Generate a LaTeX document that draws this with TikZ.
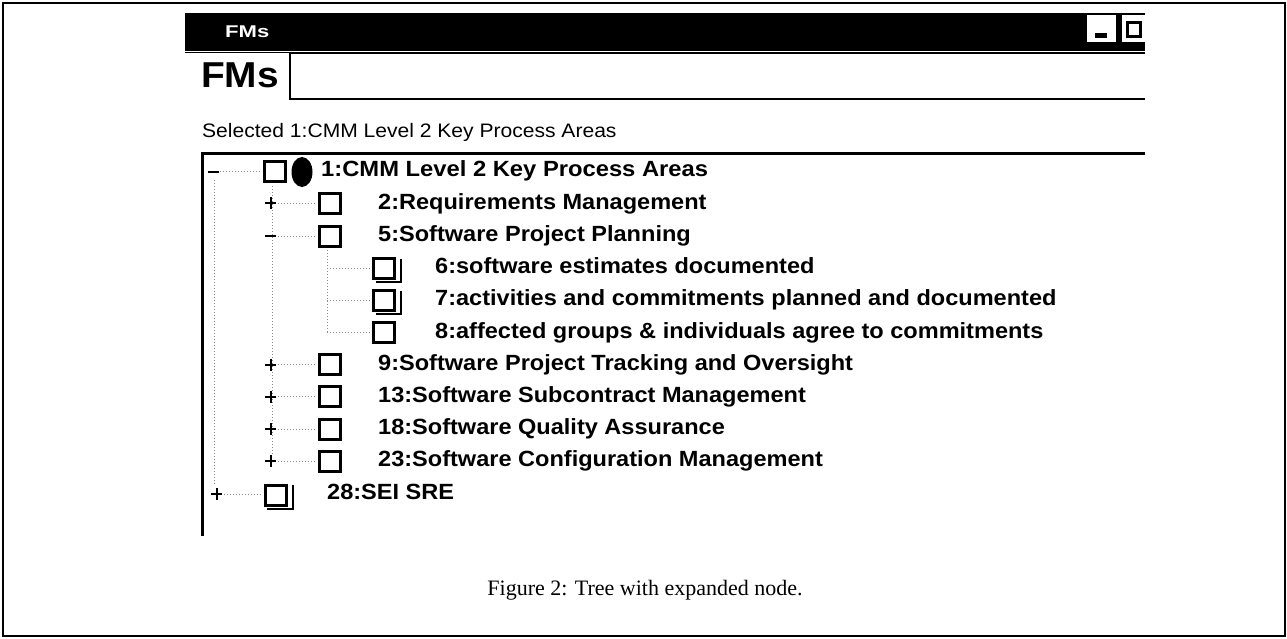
\documentclass[tikz,border=0pt]{standalone}
\usepackage{fontspec}
\setmainfont{Liberation Sans}
\newfontfamily\capfont{Liberation Serif}
\usepackage{graphicx}
\newcommand{\sx}[2]{\scalebox{#1}[1]{#2}}
\tikzset{
  treetext/.style={anchor=base west, inner sep=0pt, font=\bfseries\fontsize{22}{24}\selectfont},
  cbox/.style={draw, line width=3pt, minimum width=21pt, minimum height=20pt, inner sep=0pt},
  cshadow/.style={draw, line width=1.5pt},
  treeline/.style={draw=black!45, dotted, line width=1pt},
  expander/.style={line width=2pt},
  framel/.style={line width=2pt},
}
\begin{document}
\begin{tikzpicture}[x=1pt,y=-1pt]
\useasboundingbox (0,0) rectangle (1287,639);
% outer frame
\draw[framel] (3,3) rectangle (1285,636);
% title bar
\fill[black] (185,13) rectangle (1145,51);
\draw[line width=1.5pt] (185,52.5) -- (1145,52.5);
\node[anchor=base west, inner sep=0pt, text=white, font=\bfseries\fontsize{17}{18}\selectfont] (title) at (225,38) {\sx{1.3}{FMs}};
% window buttons
\node[fill=white, minimum width=29pt, minimum height=27pt, inner sep=0pt] (minbtn) at (1101.5,28.5) {};
\fill[black] (1095,33) rectangle (1107,38);
\node[fill=white, minimum width=23pt, minimum height=27pt, inner sep=0pt] (maxbtn) at (1133.5,28.5) {};
\draw[line width=3pt] (1127.5,22.5) rectangle (1140.5,36.5);
% FMs label and text box
\node[anchor=base west, inner sep=0pt, font=\bfseries\fontsize{36}{38}\selectfont] (fmslabel) at (201,88) {\sx{1.08}{FMs}};
\draw[line width=1.5pt] (1145,53) -- (290,53) -- (290,99) -- (1145,99);
% Selected line
\node[anchor=base west, inner sep=0pt, font=\fontsize{19.5}{21}\selectfont] (sel) at (202,138) {\sx{1.08}{Selected 1:CMM Level 2 Key Process Areas}};
% tree box
\draw[line width=3pt] (1145,154) -- (202,154) -- (202,536);
% dotted tree lines
\draw[treeline] (214,180) -- (214,486);
\draw[treeline] (220,172) -- (262,172);
\draw[treeline] (272,186) -- (272,455);
\foreach \y in {203.5,236,364.5,396.5,429,461} {\draw[treeline] (278,\y) -- (315,\y);}
\draw[treeline] (327,250) -- (327,332.5);
\foreach \y in {268,300,332.5} {\draw[treeline] (327,\y) -- (370,\y);}
\draw[treeline] (224,494) -- (262,494);
% expanders
\draw[expander] (208,172) -- (219,172);
\draw[expander] (265,236) -- (276,236);
\foreach \y in {203.5,364.5,396.5,429,461} {\draw[expander] (265,\y) -- (276,\y) (270.5,\y-6) -- (270.5,\y+6);}
\draw[expander] (211,494) -- (222,494) (216.5,488) -- (216.5,500);
% checkboxes
\node[cbox] (b1) at (275,171.5) {};
\fill[black] (302,172) ellipse [x radius=10.5pt, y radius=15pt];
\node[cbox] (b2) at (329.5,203.5) {};
\node[cbox] (b3) at (329.5,236) {};
\draw[cshadow] (376,282) -- (401,282) -- (401,259);
\node[cbox] (b4) at (384,268) {};
\draw[cshadow] (376,314) -- (401,314) -- (401,291);
\node[cbox] (b5) at (384,300) {};
\node[cbox] (b6) at (384,332.5) {};
\node[cbox] (b7) at (329.5,364.5) {};
\node[cbox] (b8) at (329.5,396.5) {};
\node[cbox] (b9) at (329.5,429) {};
\node[cbox] (b10) at (329.5,461) {};
\draw[cshadow] (267,509) -- (293,509) -- (293,485);
\node[cbox] (b11) at (275.5,495) {};
% tree texts
\node[treetext] (r1) at (321,177) {\sx{1.08}{1:CMM Level 2 Key Process Areas}};
\node[treetext] (r2) at (378,209) {\sx{1.07}{2:Requirements Management}};
\node[treetext] (r3) at (378,241.5) {\sx{1.07}{5:Software Project Planning}};
\node[treetext] (r4) at (435,273.5) {\sx{1.07}{6:software estimates documented}};
\node[treetext] (r5) at (435,305.5) {\sx{1.07}{7:activities and commitments planned and documented}};
\node[treetext] (r6) at (435,338) {\sx{1.07}{8:affected groups \& individuals agree to commitments}};
\node[treetext] (r7) at (378,370) {\sx{1.07}{9:Software Project Tracking and Oversight}};
\node[treetext] (r8) at (378,402) {\sx{1.07}{13:Software Subcontract Management}};
\node[treetext] (r9) at (378,434.5) {\sx{1.07}{18:Software Quality Assurance}};
\node[treetext] (r10) at (378,466.5) {\sx{1.07}{23:Software Configuration Management}};
\node[treetext] (r11) at (327,499) {\sx{1.07}{28:SEI SRE}};
% caption
\node[anchor=base, inner sep=0pt, font=\capfont\fontsize{22}{24}\selectfont] (cap) at (645,595) {Figure 2: Tree with expanded node.};
\end{tikzpicture}
\end{document}
